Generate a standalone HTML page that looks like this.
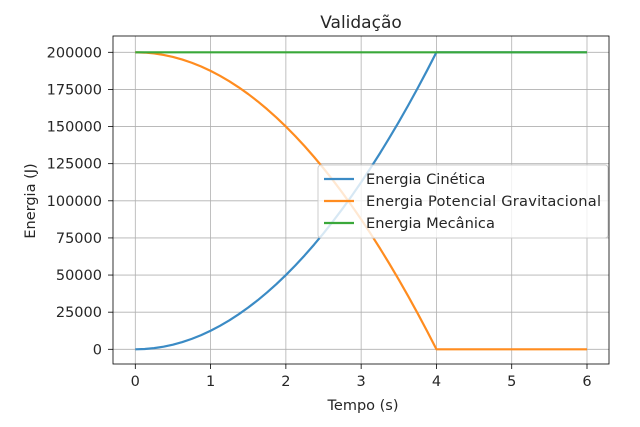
<!DOCTYPE html>
<html><head><meta charset="utf-8"><style>
body{margin:0;background:#fff;font-family:"Liberation Sans","DejaVu Sans",sans-serif}
svg text{font-family:"DejaVu Sans","Liberation Sans",sans-serif;fill:#262626}
</style></head><body>
<svg id="c" width="640" height="422" xmlns="http://www.w3.org/2000/svg"></svg>
<script>
const times=[0,0.125,0.25,0.375,0.5,0.625,0.75,0.875,1,1.125,1.25,1.375,1.5,1.625,1.75,1.875,2,2.125,2.25,2.375,2.5,2.625,2.75,2.875,3,3.125,3.25,3.375,3.5,3.625,3.75,3.875,4,5,6];
const kinetic=[0,195,781,1758,3125,4883,7031,9570,12500,15820,19531,23633,28125,33008,38281,43945,50000,56445,63281,70508,78125,86133,94531,103320,112500,122070,132031,142383,153125,164258,175781,187695,200000,200000,200000];
const potential=[200000,199805,199219,198242,196875,195117,192969,190430,187500,184180,180469,176367,171875,166992,161719,156055,150000,143555,136719,129492,121875,113867,105469,96680,87500,77930,67969,57617,46875,35742,24219,12305,0,0,0];
const mechanical=[200000,200000,200000,200000,200000,200000,200000,200000,200000,200000,200000,200000,200000,200000,200000,200000,200000,200000,200000,200000,200000,200000,200000,200000,200000,200000,200000,200000,200000,200000,200000,200000,200000,200000,200000];
const xTicks=[0,1,2,3,4,5,6];
const yTicks=[0,25000,50000,75000,100000,125000,150000,175000,200000];
const seriesNames=["Energia Cinética","Energia Potencial Gravitacional","Energia Mecânica"];
const L=113,R=609,T=36,B=364;
const X=v=>135.3+(v)*(587-135.3)/6;
const Y=v=>349.3-(v)*(349.3-52.3)/200000;
const svg=document.getElementById('c');const NS='http://www.w3.org/2000/svg';
function mk(t,a,p){const e=document.createElementNS(NS,t);for(const k in a)e.setAttribute(k,a[k]);(p||svg).appendChild(e);return e;}
let e;
xTicks.forEach(v=>{
e=mk('line',{x1:X(v),x2:X(v),y1:T,y2:B,stroke:'#b0b0b0','stroke-width':0.8});


mk('line',{x1:X(v),x2:X(v),y1:B,y2:B+5,stroke:'#000','stroke-width':0.8});
e=mk('text',{x:X(v),y:B+22,'text-anchor':'middle','font-size':14.5});e.textContent=v;


});
yTicks.forEach(v=>{
e=mk('line',{x1:L,x2:R,y1:Y(v),y2:Y(v),stroke:'#b0b0b0','stroke-width':0.8});


mk('line',{x1:L-5,x2:L,y1:Y(v),y2:Y(v),stroke:'#000','stroke-width':0.8});
e=mk('text',{x:L-11,y:Y(v)+5,'text-anchor':'end','font-size':14.5});e.textContent=v;


});
const cols=['#3b8bc5','#ff8c1f','#3aa83a'];
[kinetic,potential,mechanical].forEach((s,i)=>{
e=mk('polyline',{points:s.map((v,j)=>X(times[j])+','+Y(v)).join(' '),fill:'none',stroke:cols[i],'stroke-width':2.2,'stroke-linejoin':'round'});


});
e=mk('rect',{x:L,y:T,width:R-L,height:B-T,fill:'none',stroke:'#000','stroke-width':0.8});


const lg=mk('g',{});


mk('rect',{x:318,y:165,width:290,height:73,rx:3,fill:'#fff','fill-opacity':0.8,stroke:'#ccc'},lg);
seriesNames.forEach((n,i)=>{
const y=179+i*22;
mk('line',{x1:324,x2:354,y1:y,y2:y,stroke:cols[i],'stroke-width':2.2},lg);
e=mk('text',{x:366,y:y+5,'font-size':14.6,textLength:n==="Energia Potencial Gravitacional"?235:null},lg);e.textContent=n;
if(!e.getAttribute('textLength')||e.getAttribute('textLength')==='null')e.removeAttribute('textLength');


});
e=mk('text',{x:361,y:28,'text-anchor':'middle','font-size':17});e.textContent='Validação';


e=mk('text',{x:363,y:410,'text-anchor':'middle','font-size':14.5});e.textContent='Tempo (s)';


e=mk('text',{x:0,y:0,'text-anchor':'middle','font-size':14.5,transform:'translate(35,201) rotate(-90)'});e.textContent='Energia (J)';


</script>
</body></html>
